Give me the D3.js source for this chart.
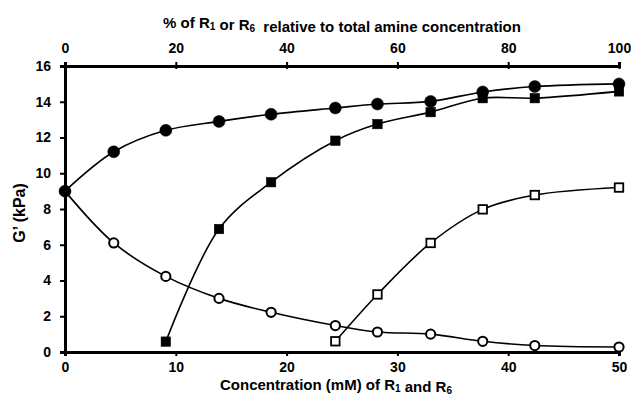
<!DOCTYPE html>
<html>
<head>
<meta charset="utf-8">
<script src="https://cdn.jsdelivr.net/npm/d3@7"></script>
<style>
  body { margin: 0; background: #fff; }
  svg text { font-family: "Liberation Sans", Arial, sans-serif; font-weight: bold; fill: #000; }
</style>
</head>
<body>
<svg id="chart" width="631" height="396"></svg>
<script>
// concentration (mM) of the x positions
var concAll = [0, 4.4, 9.1, 13.9, 18.6, 24.4, 28.2, 33.0, 37.7, 42.4, 50];

// G' (kPa) for each series
var filledCircle = [9.0, 11.2, 12.4, 12.9, 13.3, 13.65, 13.87, 14.02, 14.55, 14.85, 15.0];
var openCircle   = [9.0, 6.1, 4.23, 3.0, 2.22, 1.48, 1.12, 1.0, 0.6, 0.36, 0.28];
var filledSquareX = [9.1, 13.9, 18.6, 24.4, 28.2, 33.0, 37.7, 42.4, 50];
var filledSquare  = [0.58, 6.88, 9.5, 11.82, 12.75, 13.42, 14.2, 14.2, 14.58];
var openSquareX = [24.4, 28.2, 33.0, 37.7, 42.4, 50];
var openSquare  = [0.6, 3.22, 6.1, 7.98, 8.78, 9.2];

var yTicks = [0, 2, 4, 6, 8, 10, 12, 14, 16];
var xTicks = [0, 10, 20, 30, 40, 50];
var pctTicks = [0, 20, 40, 60, 80, 100];

var svg = d3.select("#chart");
var plotLeft = 65, plotRight = 619, plotTop = 66, plotBottom = 352;

var xScale = d3.scaleLinear().domain([0, 50]).range([plotLeft, plotRight]);
var pctScale = d3.scaleLinear().domain([0, 100]).range([plotLeft, plotRight]);
var yScale = d3.scaleLinear().domain([0, 16]).range([plotBottom, plotTop]);

// axes
var yAxis = svg.append("g")
    .attr("transform", "translate(" + plotLeft + ",0)")
    .call(d3.axisLeft(yScale).tickValues(yTicks).tickSize(5).tickPadding(9));
var xAxis = svg.append("g")
    .attr("transform", "translate(0," + plotBottom + ")")
    .call(d3.axisBottom(xScale).tickValues(xTicks).tickSize(4).tickPadding(6));
var topAxis = svg.append("g")
    .attr("transform", "translate(0," + plotTop + ")")
    .call(d3.axisTop(pctScale).tickValues(pctTicks).tickSize(4).tickPadding(9));

[yAxis, xAxis, topAxis].forEach(function(g) {
    g.select(".domain").attr("stroke", "#000").attr("stroke-width", 3);
    g.selectAll(".tick line").attr("stroke", "#000").attr("stroke-width", 2);
    g.selectAll(".tick text")
        .attr("font-size", "14px")
        .attr("font-family", "Liberation Sans, Arial, sans-serif")
        .attr("font-weight", "bold");
});
// ticks cross the line slightly
yAxis.selectAll(".tick line").attr("x2", -5).attr("x1", 2);
topAxis.selectAll(".tick line").attr("y2", -4).attr("y1", 3);

// curves
var line = d3.line()
    .x(function(d) { return xScale(d[0]); })
    .y(function(d) { return yScale(d[1]); })
    .curve(d3.curveCatmullRom.alpha(0.5));

// drawn bottom to top
var series = [
    { x: concAll, y: openCircle, shape: "circle", fill: "#fff" },
    { x: openSquareX, y: openSquare, shape: "square", fill: "#fff" },
    { x: filledSquareX, y: filledSquare, shape: "square", fill: "#000" },
    { x: concAll, y: filledCircle, shape: "circle", fill: "#000" }
];

series.forEach(function(s) {
    var pts = s.x.map(function(v, i) { return [v, s.y[i]]; });
    svg.append("path")
        .datum(pts)
        .attr("d", line)
        .attr("fill", "none")
        .attr("stroke", "#000")
        .attr("stroke-width", 1.6);
});

series.forEach(function(s) {
    var pts = s.x.map(function(v, i) { return [v, s.y[i]]; });
    var g = svg.append("g");
    var filled = s.fill === "#000";
    if (s.shape === "circle") {
        g.selectAll("circle").data(pts).enter().append("circle")
            .attr("cx", function(d) { return xScale(d[0]); })
            .attr("cy", function(d) { return yScale(d[1]); })
            .attr("r", filled ? 6 : 4.6)
            .attr("fill", s.fill)
            .attr("stroke", "#000")
            .attr("stroke-width", filled ? 0.5 : 2);
    } else {
        var sz = filled ? 9.5 : 8.5;
        g.selectAll("rect").data(pts).enter().append("rect")
            .attr("x", function(d) { return xScale(d[0]) - sz / 2; })
            .attr("y", function(d) { return yScale(d[1]) - sz / 2; })
            .attr("width", sz)
            .attr("height", sz)
            .attr("fill", s.fill)
            .attr("stroke", "#000")
            .attr("stroke-width", filled ? 0.5 : 1.8);
    }
});

// titles with subscripts
function subTitle(x, y, parts) {
    var t = svg.append("text")
        .attr("x", x).attr("y", y)
        .attr("text-anchor", "middle")
        .attr("font-size", "15px");
    parts.forEach(function(p) {
        if (p.sub) {
            t.append("tspan").attr("dy", 2).attr("font-size", "10px").text(p.sub);
            t.append("tspan").attr("dy", -2).text("");
        } else {
            t.append("tspan").text(p.t);
        }
    });
    return t;
}

subTitle(342, 28, [
    { t: "% of R" }, { sub: "1" }, { t: " or R" }, { sub: "6" },
    { t: "\u00a0 relative to total amine concentration" }
]);

subTitle(336, 390, [
    { t: "Concentration (mM) of R" }, { sub: "1" }, { t: " and R" }, { sub: "6" }
]);

svg.append("text")
    .attr("transform", "translate(25,213) rotate(-90)")
    .attr("text-anchor", "middle")
    .attr("font-size", "16px")
    .text("G\u2019 (kPa)");
</script>
</body>
</html>
